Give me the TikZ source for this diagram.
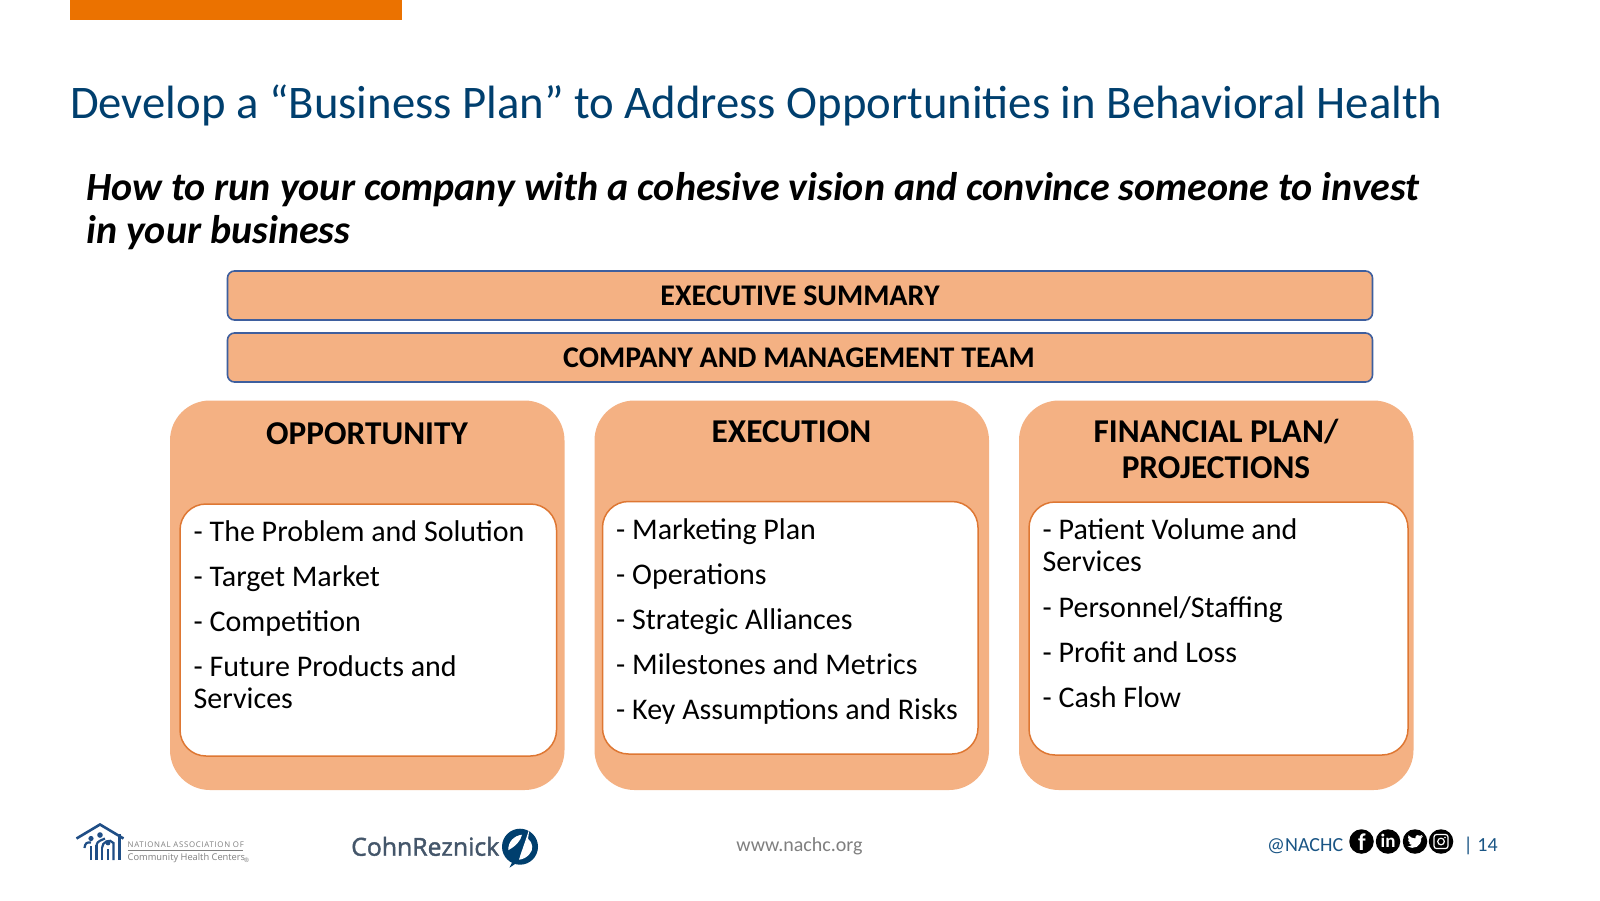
\documentclass[tikz,border=0pt]{standalone}
\usepackage{fontspec}
\setmainfont{Carlito}
\newfontfamily\cohnfont[FakeBold=1.6]{Open Sans}
\newfontfamily\nachcfont{Open Sans}
\definecolor{barorange}{HTML}{EB7200}
\definecolor{titleblue}{HTML}{003F6E}
\definecolor{peach}{HTML}{F4B183}
\definecolor{boxblue}{HTML}{3E5F9E}
\definecolor{innerline}{HTML}{DE7733}
\definecolor{footgray}{HTML}{7F7F7F}
\definecolor{handle}{HTML}{1A5585}
\definecolor{logoblue}{HTML}{1F4E86}
\definecolor{cohnblue}{HTML}{003F6E}
\definecolor{cohngray}{HTML}{44566A}
\newcommand{\fsz}[1]{\fontsize{#1}{#1}\selectfont}
\tikzset{
  band/.style={draw=boxblue,line width=1.6pt,fill=peach,rounded corners=7pt},
  panel/.style={fill=peach,rounded corners=40pt},
  inner/.style={draw=innerline,line width=1.5pt,fill=white,rounded corners=26pt},
  txt/.style={inner sep=0pt,anchor=base west},
  ctr/.style={inner sep=0pt,anchor=base},
  bandtext/.style={ctr,font=\fsz{30}\bfseries},
  headtext/.style={ctr,font=\fsz{33.3}\bfseries},
  listtext/.style={txt,font=\fsz{30}},
  social/.style={fill=black,circle,minimum size=24.5pt,inner sep=0pt},
  socglyph/.style={inner sep=0pt,text=white,font=\bfseries},
}
\begin{document}
\begin{tikzpicture}[x=1pt,y=-1pt]
\useasboundingbox (0,0) rectangle (1600,900);
\fill[white] (0,0) rectangle (1600,900);
\fill[barorange] (69.5,0) rectangle (402,20);

\node[txt,text=titleblue,font=\fsz{46.7}] (title) at (70,118) {Develop a “Business Plan” to Address Opportunities in Behavioral Health};
\node[txt,font=\fsz{40}\bfseries\itshape] (sub1) at (86,200) {How to run your company with a cohesive vision and convince someone to invest};
\node[txt,font=\fsz{40}\bfseries\itshape] (sub2) at (86,243) {in your business};

\draw[band] (227.5,271) rectangle (1372.5,320);
\node[bandtext] (exec) at (800,305.5) {EXECUTIVE SUMMARY};
\draw[band] (227.5,333) rectangle (1372.5,382);
\node[bandtext] (comp) at (799,367) {COMPANY AND MANAGEMENT TEAM};

\fill[panel] (170,400.5) rectangle (564.5,790);
\fill[panel] (594.5,400.5) rectangle (989,790);
\fill[panel] (1019,400.5) rectangle (1413.5,790);

\node[headtext] (h1) at (367,444) {OPPORTUNITY};
\node[headtext] (h2) at (791.5,442) {EXECUTION};
\node[headtext] (h3a) at (1216,442) {FINANCIAL PLAN/};
\node[headtext] (h3b) at (1216,478) {PROJECTIONS};

\draw[inner] (180,504) rectangle (556.5,756);
\draw[inner] (602.5,501.5) rectangle (978,754);
\draw[inner] (1029,502) rectangle (1408,755);

\node[listtext] (a1) at (193.5,541) {- The Problem and Solution};
\node[listtext] (a2) at (193.5,586) {- Target Market};
\node[listtext] (a3) at (193.5,631) {- Competition};
\node[listtext] (a4) at (193.5,676) {- Future Products and};
\node[listtext] (a5) at (193.5,708.5) {Services};

\node[listtext] (b1) at (616,539) {- Marketing Plan};
\node[listtext] (b2) at (616,584) {- Operations};
\node[listtext] (b3) at (616,629) {- Strategic Alliances};
\node[listtext] (b4) at (616,674) {- Milestones and Metrics};
\node[listtext] (b5) at (616,719) {- Key Assumptions and Risks};

\node[listtext] (c1) at (1042.5,539) {- Patient Volume and};
\node[listtext] (c2) at (1042.5,571.5) {Services};
\node[listtext] (c3) at (1042.5,617) {- Personnel/Staffing};
\node[listtext] (c4) at (1042.5,662) {- Profit and Loss};
\node[listtext] (c5) at (1042.5,707) {- Cash Flow};

% footer
\node[ctr,text=footgray,font=\fsz{20}] (web) at (799.5,851) {www.nachc.org};
\node[txt,text=handle,font=\fsz{20}] (handle) at (1267,851) {@NACHC};
\node[social] (fb) at (1361.5,841.5) {};
\node[social] (li) at (1388,841.5) {};
\node[social] (tw) at (1415,841.5) {};
\node[social] (ig) at (1441,841.5) {};
\node[socglyph,font=\fsz{24}\bfseries] at (1361.8,842) {f};
\node[socglyph,font=\fsz{19}\bfseries] at (1388,841) {in};
\begin{scope}[shift={(1415,841.5)}]
\fill[white] (-7.5,5) .. controls (-1.5,8.5) and (6.5,5) .. (6.3,-3.5) -- (8,-5.3) -- (6,-4.7) -- (7.5,-6.7) -- (5.2,-5.8) .. controls (3.5,-7.5) and (0,-6.5) .. (0.3,-3) .. controls (-2.5,-3) and (-5,-4.5) .. (-6.5,-6.2) .. controls (-7.5,-4.5) and (-7,-2.5) .. (-5.5,-1.7) -- (-7,-2) .. controls (-7,-0.3) and (-6,0.8) .. (-4.5,1.2) -- (-6,1.3) .. controls (-5.5,2.6) and (-4.5,3.2) .. (-3,3.3) .. controls (-4,4.3) and (-5.7,5) .. (-7.5,5) -- cycle;
\end{scope}
\begin{scope}[shift={(1441,841.5)}]
\draw[white,line width=1.2pt,rounded corners=2.5pt] (-7,-7) rectangle (7,7);
\draw[white,line width=1.2pt] (0,0) circle (3.3);
\fill[white] (4,-4) circle (0.9);
\end{scope}
\node[txt,text=handle,font=\fsz{20}] (page) at (1463.5,851) {| 14};

% NACHC logo
\begin{scope}[logoblue]
\draw[line width=2.6pt,line join=miter] (76.5,838.5) -- (100,824.5) -- (123.5,838.5);
\draw[line width=2.6pt] (119.5,834) -- (119.5,860);
\fill (91,838.5) circle (2.6);
\fill (100,835) circle (2.8);
\fill (108,843) circle (2.4);
\draw[line width=2.5pt] (91,860) -- (91,846);
\draw[line width=2.5pt] (96.5,860) -- (96.5,845);
\draw[line width=2.5pt] (102,860) -- (102,848);
\draw[line width=2.5pt] (108,860) -- (108,849);
\draw[line width=2.2pt] (84.5,848) .. controls (85,843) and (87,842) .. (91,842.5);
\draw[line width=2.2pt] (96.5,845) .. controls (97,841) and (102,840) .. (105,838.5);
\draw[line width=2.2pt] (102,848) .. controls (102,842) and (110,838) .. (113.5,843) -- (113.5,860);
\end{scope}
\node[txt,text=footgray,font=\nachcfont\fsz{7.85}] (nat) at (127.5,847) {\addfontfeatures{LetterSpace=9}NATIONAL ASSOCIATION OF};
\draw[footgray,line width=0.6pt] (127.5,850.7) -- (243,850.7);
\node[txt,text=footgray,font=\nachcfont\fsz{9.3}] (chc) at (127.5,860.5) {Community Health Centers};
\node[txt,text=footgray,font=\nachcfont\fsz{6}] (reg) at (244,862.5) {®};

% CohnReznick logo
\node[txt,text=cohngray,font=\cohnfont\fsz{24.8}] (cohn) at (351,855.7) {CohnReznick};
\begin{scope}[shift={(520,846.7)}]
\fill[cohnblue] (0,0) circle (18);
\fill[cohnblue] (-10.5,21) -- (-4,8) -- (3,12) -- cycle;
\fill[white] (-11.7,3.5) .. controls (-12,-5) and (-6,-11) .. (2,-12) .. controls (1,-6) and (-5,0) .. (-11.7,3.5) -- cycle;
\fill[white] (9.8,-19.5) -- (8,-8) .. controls (13,-4) and (14,3) .. (9,8) .. controls (6,11) and (3,12.5) .. (-1,13) .. controls (2,3) and (6,-7) .. (9.8,-19.5) -- cycle;
\end{scope}
\end{tikzpicture}
\end{document}
